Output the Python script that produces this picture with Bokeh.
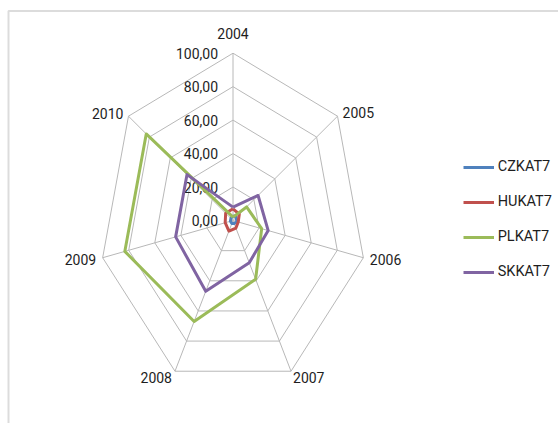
import math
from bokeh.plotting import figure
from bokeh.models import Range1d, BoxAnnotation, Legend, LegendItem
from bokeh.core.properties import value
from bokeh.embed import file_html
from bokeh.resources import INLINE

# ---- data ----
categories = ["2004", "2005", "2006", "2007", "2008", "2009", "2010"]
tick_values = [0, 20, 40, 60, 80, 100]
tick_labels = ["0,00", "20,00", "40,00", "60,00", "80,00", "100,00"]
cz = [3, 3, 3, 2, 2, 2, 2]
hu = [7, 6, 4, 5, 7, 6, 7]
pl = [2, 13, 22, 39, 67, 83, 83]
sk = [8, 24, 27, 28, 47, 44, 44]
series_names = ["CZKAT7", "HUKAT7", "PLKAT7", "SKKAT7"]

# ---- style ----
colors = ["#4F81BD", "#C0504D", "#9BBB59", "#8064A2"]
FONT = "Roboto"
TEXT_COLOR = "#1E1E1E"
GRID_COLOR = "#B8B8B8"
lab_dx = [0, 5, 6.5, 2, -3, -6.5, -5]
lab_dy = [-20, -4, 1.5, 6, 6, 2, -2.5]
lab_align = ["center", "left", "left", "left", "right", "right", "right"]

W, H = 558, 423
SX, SY = 1.337, 1.673          # px per value unit (x, y)
CX, CY = 232.5, 220.0          # centre in frame px (from frame left/top)

x_range = Range1d(-CX / SX, (W - CX) / SX)
y_range = Range1d(-(H - CY) / SY, CY / SY)

p = figure(width=W, height=H, x_range=x_range, y_range=y_range,
           output_backend="svg", toolbar_location=None, min_border=0,
           outline_line_color=None, background_fill_color="white")
p.axis.visible = False
p.grid.visible = False

n = len(categories)
ang = [2 * math.pi * k / n for k in range(n)]

def to_xy(vals):
    xs = [v * math.sin(a) for v, a in zip(vals, ang)]
    ys = [v * math.cos(a) for v, a in zip(vals, ang)]
    return xs + xs[:1], ys + ys[:1]

ring_xs, ring_ys = [], []
for t in tick_values[1:]:
    xs, ys = to_xy([t] * n)
    ring_xs.append(xs)
    ring_ys.append(ys)
p.multi_line(ring_xs, ring_ys, line_color=GRID_COLOR, line_width=1)

top = tick_values[-1]
sx1, sy1 = to_xy([top] * n)
p.segment(x0=[0] * n, y0=[0] * n, x1=sx1[:n], y1=sy1[:n],
          line_color=GRID_COLOR, line_width=1)

for i, c in enumerate(categories):
    p.text(x=[sx1[i]], y=[sy1[i]], text=[c], x_offset=lab_dx[i], y_offset=lab_dy[i],
           text_align=lab_align[i], text_baseline="middle",
           text_font=value(FONT), text_font_size="14px", text_color=TEXT_COLOR)

p.text(x=[0] * len(tick_values), y=tick_values, text=tick_labels, x_offset=-15,
       text_align="right", text_baseline="middle",
       text_font=value(FONT), text_font_size="14px", text_color=TEXT_COLOR)

items = []
for name, vals, col in zip(series_names, [cz, hu, pl, sk], colors):
    xs, ys = to_xy(vals)
    r = p.line(xs, ys, line_color=col, line_width=3, line_join="round")
    items.append(LegendItem(label=name, renderers=[r]))

legend = Legend(items=items, location=(462.7, 141.3), orientation="vertical",
                glyph_width=31, glyph_height=20, label_height=20, spacing=15,
                label_standoff=4, padding=0, margin=0,
                border_line_color=None, background_fill_alpha=0,
                label_text_font=FONT, label_text_font_size="14.5px",
                label_text_color=TEXT_COLOR)
p.add_layout(legend)

border = BoxAnnotation(left=(8 - CX) / SX, top=(CY - 10.5) / SY,
                       right=(W + 50 - CX) / SX, bottom=-(H + 50 - CY) / SY,
                       fill_alpha=0, line_color="#8A8A8A", line_width=2)
p.add_layout(border)

open("out.html", "w").write(file_html(p, INLINE))
